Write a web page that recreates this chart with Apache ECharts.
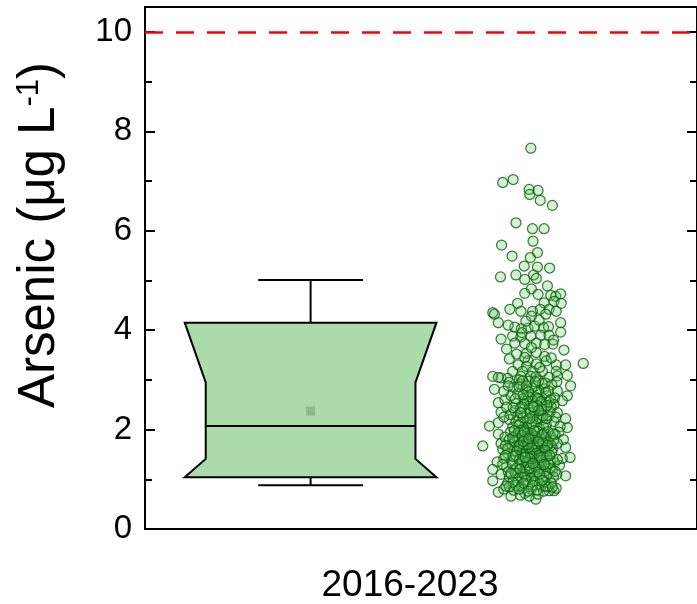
<!DOCTYPE html>
<html>
<head>
<meta charset="utf-8">
<script src="https://cdn.jsdelivr.net/npm/echarts@6/dist/echarts.min.js"></script>
<style>
html,body{margin:0;padding:0;background:#fff;}
#chart{width:697px;height:604px;}
</style>
</head>
<body>
<div id="chart"></div>
<script>
// ---- data ----
const categories = ['2016-2023'];
const yLabels = [0, 2, 4, 6, 8, 10];
// box statistics: lower whisker, Q1, median, Q3, upper whisker
const boxStats = [0.88, 1.04, 2.07, 4.15, 5.01];
const notchRange = [1.41, 2.95];
const meanValue = 2.37;
const limitValue = 10;
const boxPosition = -0.2;
// individual measurements: [jitter position, value]
const pointsHigh = [
[0.199,7.66],[0.148,6.97],[0.167,7.03],[0.196,6.83],[0.197,6.73],[0.212,6.81],[0.216,6.61],[0.238,6.51],[0.172,6.16],[0.202,6.04],[0.223,6.04],[0.203,5.79],[0.146,5.71],[0.165,5.49],[0.198,5.46],[0.211,5.56],[0.187,5.29],[0.211,5.27],[0.233,5.25],[0.144,5.07],[0.172,5.11],[0.188,5.02],[0.204,5.11],[0.209,5.04],[0.200,4.83],[0.229,4.89],[0.188,4.74],[0.212,4.72],[0.235,4.70],[0.244,4.68],[0.253,4.73],[0.175,4.54],[0.223,4.55],[0.241,4.58],[0.254,4.54]
];
const points4 = [
[0.161,4.42],[0.181,4.38],[0.130,4.35],[0.202,4.38],[0.216,4.42],[0.232,4.42],[0.133,4.32],[0.200,4.28],[0.226,4.32],[0.245,4.38],[0.140,4.15],[0.253,4.15],[0.170,4.06],[0.182,4.03],[0.194,4.04],[0.206,4.08],[0.222,4.05],[0.231,4.07],[0.253,3.96],[0.158,4.10],[0.190,4.18],[0.214,4.20]
];
const points35 = [
[0.145,3.82],[0.166,3.88],[0.181,3.86],[0.199,3.88],[0.217,3.90],[0.232,3.90],[0.170,3.74],[0.188,3.73],[0.209,3.74],[0.224,3.71],[0.239,3.72],[0.259,3.60],[0.173,3.52],[0.191,3.53],[0.209,3.55],[0.224,3.47],[0.155,3.62],[0.200,3.65],[0.183,3.95],[0.240,3.80]
];
const points3 = [
[0.194,3.38],[0.209,3.32],[0.227,3.38],[0.294,3.33],[0.176,3.30],[0.191,3.27],[0.245,3.30],[0.262,3.30],[0.166,3.17],[0.184,3.17],[0.202,3.17],[0.220,3.17],[0.245,3.17],[0.130,3.07],[0.145,3.04],[0.181,3.07],[0.199,3.07],[0.265,3.09],[0.140,3.05],[0.157,3.03],[0.178,3.00],[0.208,3.06],[0.232,3.05],[0.247,3.08],[0.215,3.25],[0.160,3.42],[0.236,3.44],[0.188,3.45]
];
const points25 = [
[0.133,2.81],[0.271,2.88],[0.265,2.68],[0.247,2.78],[0.140,2.54],[0.152,2.60],[0.160,2.95],[0.168,2.85],[0.175,2.72],[0.180,2.92],[0.186,2.63],[0.190,2.80],[0.195,2.97],[0.198,2.70],[0.203,2.57],[0.207,2.88],[0.211,2.75],[0.215,2.62],[0.220,2.93],[0.224,2.82],[0.228,2.68],[0.232,2.55],[0.237,2.90],[0.242,2.64],[0.256,2.58],[0.163,2.68],[0.172,2.52],[0.184,2.98],[0.192,2.58],[0.201,2.84],[0.213,2.98],[0.226,2.74],[0.235,2.60],[0.150,2.77],[0.158,2.88],[0.207,2.66],[0.218,2.52],[0.178,2.86],[0.195,2.66],[0.246,2.96],
[0.171,2.62],[0.191,2.88],[0.211,2.62],[0.231,2.78],[0.187,2.52],[0.207,2.96],[0.217,2.56],[0.241,2.50],[0.195,2.76],[0.185,2.70],[0.225,2.94]
];
const points2 = [
[0.124,2.07],[0.140,2.14],[0.265,2.04],[0.262,2.22],[0.145,2.35],[0.155,2.45],[0.160,2.20],[0.166,2.05],[0.170,2.38],[0.175,2.28],[0.179,2.12],[0.183,2.46],[0.187,2.02],[0.190,2.32],[0.193,2.18],[0.196,2.42],[0.199,2.08],[0.202,2.26],[0.205,2.36],[0.208,2.14],[0.211,2.48],[0.214,2.03],[0.217,2.30],[0.220,2.20],[0.223,2.40],[0.227,2.10],[0.231,2.28],[0.236,2.45],[0.241,2.16],[0.247,2.34],[0.252,2.06],[0.172,2.16],[0.185,2.24],[0.198,2.34],[0.210,2.22],[0.222,2.06],[0.234,2.36],[0.162,2.30],[0.192,2.05],[0.205,2.45],[0.218,2.40],[0.228,2.48],[0.180,2.42],[0.150,2.25],[0.244,2.25],
[0.181,2.34],[0.201,2.12],[0.221,2.28],[0.197,2.22],[0.227,2.22],[0.177,2.08],[0.167,2.44],[0.213,2.38],[0.203,2.46]
];
const points15 = [
[0.140,1.91],[0.112,1.67],[0.262,1.64],[0.250,1.95],[0.258,1.80],[0.145,1.72],[0.148,1.60],[0.152,1.85],[0.157,1.52],[0.162,1.95],[0.165,1.70],[0.169,1.58],[0.172,1.88],[0.175,1.78],[0.178,1.62],[0.181,1.98],[0.184,1.53],[0.187,1.84],[0.190,1.70],[0.193,1.93],[0.196,1.60],[0.199,1.76],[0.202,1.50],[0.205,1.88],[0.208,1.66],[0.211,1.97],[0.214,1.56],[0.217,1.80],[0.220,1.68],[0.223,1.92],[0.227,1.55],[0.231,1.74],[0.235,1.86],[0.239,1.62],[0.243,1.90],[0.247,1.72],[0.160,1.80],[0.170,1.76],[0.180,1.69],[0.190,1.56],[0.200,1.92],[0.210,1.82],[0.220,1.52],[0.230,1.96],[0.176,1.94],[0.186,1.64],[0.196,1.86],[0.206,1.58],[0.216,1.72],[0.226,1.84],[0.236,1.68],[0.166,1.84],[0.192,1.78],[0.203,1.70],[0.213,1.64],[0.183,1.88],[0.198,1.54],[0.153,1.68],[0.240,1.78],[0.224,1.62],
[0.181,1.52],[0.201,1.62],[0.221,1.74],[0.187,1.96],[0.207,1.86],[0.177,1.66],[0.237,1.54],[0.157,1.62],[0.209,1.52],[0.219,1.90],[0.229,1.68],[0.239,1.92],[0.169,1.98],[0.193,1.70],[0.213,1.76],[0.173,1.56],[0.225,1.58],[0.185,1.76],[0.195,1.82],[0.205,1.98]
];
const points1 = [
[0.270,1.44],[0.262,1.07],[0.130,1.20],[0.138,1.35],[0.145,1.10],[0.150,1.42],[0.155,1.25],[0.160,1.05],[0.164,1.38],[0.168,1.18],[0.172,1.48],[0.176,1.02],[0.179,1.30],[0.183,1.14],[0.186,1.44],[0.189,1.22],[0.192,1.06],[0.195,1.36],[0.198,1.16],[0.201,1.46],[0.204,1.28],[0.207,1.08],[0.210,1.40],[0.213,1.20],[0.216,1.32],[0.219,1.04],[0.222,1.45],[0.226,1.26],[0.230,1.12],[0.234,1.38],[0.238,1.20],[0.242,1.34],[0.246,1.10],[0.251,1.28],[0.256,1.42],[0.174,1.24],[0.184,1.36],[0.194,1.28],[0.203,1.12],[0.214,1.48],[0.224,1.16],[0.197,1.42],[0.188,1.10],[0.208,1.24],[0.218,1.38],[0.228,1.46],[0.166,1.30],[0.158,1.15],[0.240,1.05],[0.178,1.40],[0.148,1.30],[0.234,1.22],
[0.171,1.12],[0.191,1.34],[0.211,1.14],[0.231,1.32],[0.197,1.22],[0.217,1.44],[0.227,1.06],[0.167,1.46],[0.247,1.40],[0.199,1.02],[0.189,1.44],[0.179,1.20],[0.203,1.32],[0.223,1.30],[0.183,1.04],[0.233,1.48],[0.243,1.16],[0.163,1.12],[0.153,1.48],[0.215,1.10]
];
const pointsLow = [
[0.130,0.97],[0.140,0.74],[0.163,0.66],[0.208,0.60],[0.241,0.77],[0.245,0.82],[0.232,0.77],[0.150,0.80],[0.157,0.92],[0.168,0.78],[0.175,0.95],[0.182,0.84],[0.188,0.72],[0.194,0.90],[0.200,0.80],[0.206,0.96],[0.212,0.70],[0.218,0.86],[0.224,0.94],[0.230,0.85],[0.236,0.92],[0.180,0.68],[0.196,0.66],[0.222,0.76],[0.172,0.88],[0.215,0.91],[0.190,0.98],[0.160,0.85],
[0.178,0.80],[0.186,0.92],[0.202,0.88],[0.210,0.78],[0.226,0.86],[0.194,0.76],[0.166,0.94],[0.220,0.98],[0.238,0.84],[0.154,0.86]
];
const measurements = [].concat(pointsHigh, points4, points35, points3, points25, points2, points15, points1, pointsLow);

// ---- chart ----
const FONT = 'Liberation Sans, Arial, sans-serif';
const chart = echarts.init(document.getElementById('chart'), null, {renderer: 'canvas'});

const BOX_HALF = 0.228, NOTCH_HALF = 0.19, CAP_HALF = 0.095;

function renderBox(params, api) {
  const x = api.value(0);
  const lw = api.value(1), q1 = api.value(2), med = api.value(3), q3 = api.value(4), uw = api.value(5);
  const nLo = api.value(6), nHi = api.value(7);
  const c = (dx, y) => api.coord([x + dx, y]);
  const poly = [c(-BOX_HALF, q3), c(BOX_HALF, q3), c(NOTCH_HALF, nHi), c(NOTCH_HALF, nLo),
                c(BOX_HALF, q1), c(-BOX_HALF, q1), c(-NOTCH_HALF, nLo), c(-NOTCH_HALF, nHi)];
  const ls = {stroke: '#000', lineWidth: 2, fill: null};
  const line = (a, b) => ({type: 'line', shape: {x1: a[0], y1: a[1], x2: b[0], y2: b[1]}, style: ls});
  return {
    type: 'group',
    children: [
      line(c(0, q3), c(0, uw)),
      line(c(-CAP_HALF, uw), c(CAP_HALF, uw)),
      line(c(0, q1), c(0, lw)),
      line(c(-CAP_HALF, lw), c(CAP_HALF, lw)),
      {type: 'polygon', shape: {points: poly}, style: {fill: '#abdbaa', stroke: '#000', lineWidth: 2}},
      line(c(-NOTCH_HALF, med), c(NOTCH_HALF, med))
    ]
  };
}

const tickFmt = v => (yLabels.indexOf(v) >= 0 ? String(v) : '');
const blackLine = {show: true, onZero: false, lineStyle: {color: '#000', width: 2}};

chart.setOption({
  animation: false,
  backgroundColor: '#fff',
  grid: {left: 145, top: 7, right: -3, bottom: 74, show: true, borderColor: '#000', borderWidth: 2, backgroundColor: 'transparent'},
  xAxis: [
    {type: 'category', data: categories, boundaryGap: true,
     axisLine: blackLine,
     axisTick: {inside: false, length: 8, alignWithLabel: true, lineStyle: {color: '#000', width: 2}},
     axisLabel: {fontSize: 37, color: '#000', fontFamily: FONT, margin: 38, padding: [0, 22, 0, 0]},
     splitLine: {show: false}},
    {type: 'value', min: -0.5, max: 0.5, show: false}
  ],
  yAxis: [
    {type: 'value', min: 0, max: 10.5, interval: 2, position: 'left',
     axisLine: blackLine,
     axisTick: {inside: true, length: 10, lineStyle: {color: '#000', width: 2}},
     axisLabel: {fontSize: 33, color: '#000', fontFamily: FONT, margin: 13, formatter: tickFmt, showMaxLabel: false},
     splitLine: {show: false},
     name: 'Arsenic (μg L{sup|-1})', nameLocation: 'middle', nameRotate: 90, nameGap: 80,
     nameTextStyle: {fontSize: 51, color: '#000', fontFamily: FONT, padding: [0, 0, 0, 66],
       rich: {sup: {fontSize: 31, color: '#000', fontFamily: FONT, verticalAlign: 'top', lineHeight: 32, padding: [0, 0, 15, 0]}}}},
    {type: 'value', min: 0, max: 10.5, interval: 1, position: 'left',
     axisLine: {show: false, onZero: false}, axisLabel: {show: false}, splitLine: {show: false},
     axisTick: {inside: true, length: 7, lineStyle: {color: '#000', width: 2}}},
    {type: 'value', min: 0, max: 10.5, interval: 2, position: 'right',
     axisLine: blackLine, axisLabel: {show: false}, splitLine: {show: false},
     axisTick: {inside: true, length: 10, lineStyle: {color: '#000', width: 2}}},
    {type: 'value', min: 0, max: 10.5, interval: 1, position: 'right',
     axisLine: {show: false, onZero: false}, axisLabel: {show: false}, splitLine: {show: false},
     axisTick: {inside: true, length: 7, lineStyle: {color: '#000', width: 2}}}
  ],
  series: [
    {type: 'custom', xAxisIndex: 1, yAxisIndex: 0, renderItem: renderBox, z: 3,
     data: [[boxPosition].concat(boxStats, notchRange)]},
    {type: 'scatter', xAxisIndex: 1, yAxisIndex: 0, symbol: 'rect', symbolSize: 9, z: 4,
     itemStyle: {color: '#8db98b', opacity: 1}, data: [[boxPosition, meanValue]]},
    {type: 'scatter', xAxisIndex: 1, yAxisIndex: 0, symbol: 'circle', symbolSize: 10, z: 3,
     itemStyle: {color: 'rgba(120, 195, 120, 0.35)', borderColor: 'rgba(0, 100, 0, 1)', borderWidth: 1.25},
     data: measurements,
     markLine: {silent: true, symbol: ['none', 'none'], label: {show: false},
       lineStyle: {color: '#ff0000', width: 2.5, type: [18, 13]},
       data: [{yAxis: limitValue}]}}
  ]
});
</script>
</body>
</html>
